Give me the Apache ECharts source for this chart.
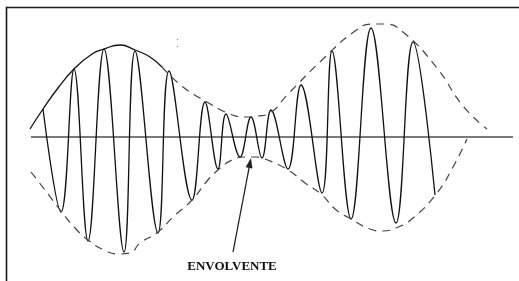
<!DOCTYPE html>
<html lang="es">
<head>
    <meta charset="UTF-8">
    <title>Envolvente</title>
    <script src="https://cdn.jsdelivr.net/npm/echarts@6/dist/echarts.min.js"></script>
</head>
<style>
    body{ margin: 0; background: #fff; }
    #main{ width: 519px; height: 281px; }
</style>
<body>
<div id="main"></div>
<script>
    // onda portadora: extremos (posicion, amplitud)
    var ondaX = [43, 61, 74, 88, 104, 124, 135, 158, 169, 192, 205, 218, 226, 240, 251, 262, 271, 288, 301, 322, 332, 351, 371, 396, 413, 435];
    var ondaY = [28, -75, 68, -104, 88, -115, 86, -96, 66, -63, 35, -32, 23, -20, 20, -21, 27, -32, 52, -56, 86, -82, 109, -86, 95, -58];

    // envolvente superior (tramo continuo y tramo a trazos)
    var envSupX1 = [30, 43, 58, 74, 92, 104, 120, 135, 150, 162];
    var envSupY1 = [8, 28, 49, 68, 83, 88, 92, 87, 80, 70];
    var envSupX2 = [162, 183, 207, 230, 245, 258, 268, 288, 322, 355, 372, 385, 403, 437, 463, 487];
    var envSupY2 = [70, 50, 35, 23, 20, 21, 23, 43, 77, 106, 113, 113, 105, 69, 31, 8];

    // envolvente inferior
    var envInfX = [31, 45, 61, 75, 88, 104, 118, 130, 140, 158, 173, 192, 207, 218, 232, 245, 255, 265, 288, 305, 322, 335, 351, 370, 382, 396, 413, 437, 453, 467];
    var envInfY = [-35, -53, -74, -91, -103, -113, -117, -116, -106, -95, -80, -63, -44, -33, -23, -20, -20, -22, -33, -46, -58, -72, -82, -92, -94, -91, -81, -56, -30, -2];

    // eje horizontal
    var ejeX = [31, 513];
    var ejeY = [0, 0];

    function pares(xs, ys) {
        var out = [];
        for (var i = 0; i < xs.length; i++) {
            out[out.length] = [xs[i], ys[i]];
        }
        return out;
    }

    var myChart = echarts.init(document.getElementById('main'));
    var option = {
        animation: false,
        backgroundColor: '#fff',
        grid: { left: 0, right: 0, top: 0, bottom: 0 },
        xAxis: { type: 'value', min: 0, max: 519, show: false },
        yAxis: { type: 'value', min: -144, max: 137, show: false },
        graphic: [
            {
                type: 'polyline',
                shape: { points: [[6.5, 281], [6.5, 7.5], [519, 7.5]] },
                style: { stroke: '#1a1a1a', lineWidth: 1.6, fill: null }
            },
            { type: 'circle', shape: { cx: 177.5, cy: 39.5, r: 0.8 }, style: { fill: '#999' } },
            { type: 'circle', shape: { cx: 177.5, cy: 46.5, r: 0.8 }, style: { fill: '#999' } },
            {
                type: 'text',
                x: 232, y: 267,
                style: {
                    text: 'ENVOLVENTE',
                    font: 'bold 13px "Liberation Serif"',
                    fill: '#111',
                    align: 'center',
                    verticalAlign: 'middle'
                }
            }
        ],
        series: [
            {
                name: 'eje',
                type: 'line',
                data: pares(ejeX, ejeY),
                symbol: 'none',
                lineStyle: { color: '#7a7a7a', width: 1.8 },
                markLine: {
                    silent: true,
                    symbol: ['none', 'triangle'],
                    symbolSize: [7, 10],
                    label: { show: false },
                    lineStyle: { color: '#222', width: 1.3, type: 'solid' },
                    data: [[{ coord: [233, -115] }, { coord: [250, -26] }]]
                }
            },
            {
                name: 'onda',
                type: 'line',
                data: pares(ondaX, ondaY),
                symbol: 'none',
                smooth: 0.4,
                lineStyle: { color: '#111', width: 1.3 }
            },
            {
                name: 'envolvente sup 1',
                type: 'line',
                data: pares(envSupX1, envSupY1),
                symbol: 'none',
                smooth: true,
                lineStyle: { color: '#111', width: 1.3 }
            },
            {
                name: 'envolvente sup 2',
                type: 'line',
                data: pares(envSupX2, envSupY2),
                symbol: 'none',
                smooth: true,
                lineStyle: { color: '#444', width: 1.2, type: [8, 6] }
            },
            {
                name: 'envolvente inf',
                type: 'line',
                data: pares(envInfX, envInfY),
                symbol: 'none',
                smooth: true,
                lineStyle: { color: '#444', width: 1.2, type: [8, 6] }
            }
        ]
    };
    myChart.setOption(option);
</script>
</body>
</html>
